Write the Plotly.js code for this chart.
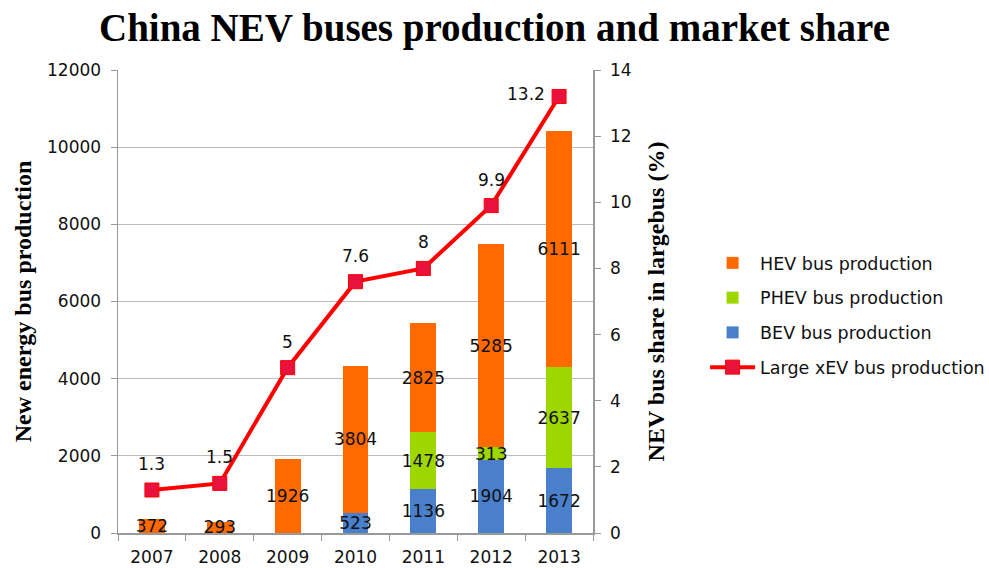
<!DOCTYPE html>
<html><head><meta charset="utf-8">
<script src="https://cdn.plot.ly/plotly-3.0.1.min.js"></script>
<style>body{margin:0;background:#fff}#c{width:989px;height:568px}</style>
</head><body><div id="c"></div>
<script>
const years = ['2007','2008','2009','2010','2011','2012','2013'];
const bev = [null, null, null, 523, 1136, 1904, 1672];
const phev = [null, null, null, null, 1478, 313, 2637];
const hev = [372, 293, 1926, 3804, 2825, 5285, 6111];
const share = [1.3, 1.5, 5, 7.6, 8, 9.9, 13.2];

const lbl = a => a.map(v => v == null ? '' : String(v));
const F = 'DejaVu Sans, sans-serif';
const SERIF = 'Liberation Serif, Times New Roman, serif';

function barTrace(name, vals, color, rank) {
  return {
    type: 'bar', name: name, x: years, y: vals,
    marker: {color: color, line: {width: 0}},
    text: lbl(vals), textposition: 'inside', insidetextanchor: 'middle',
    constraintext: 'none', textangle: 0,
    textfont: {family: F, size: 17, color: '#111'},
    legendrank: rank, legendgroup: name, hoverinfo: 'skip'
  };
}

const traces = [
  barTrace('BEV bus production', bev, '#4a7fcc', 3),
  barTrace('PHEV bus production', phev, '#9ed600', 2),
  barTrace('HEV bus production', hev, '#ff6a00', 1),
  {
    type: 'scatter', mode: 'lines+markers', name: 'Large xEV bus production',
    x: years, y: share, yaxis: 'y2',
    line: {color: '#ff0000', width: 4},
    marker: {symbol: 'square', size: 14, color: '#e8123c', line: {color: '#ff0000', width: 1}},
    legendrank: 4, legendgroup: 'line', cliponaxis: false, hoverinfo: 'skip'
  }
];

const last = share.length - 1;
const annotations = share.map((v, i) => ({
  x: i, y: v, xref: 'x', yref: 'y2', text: String(v), showarrow: false,
  font: {family: F, size: 17, color: '#111'},
  xanchor: i === last ? 'right' : 'center',
  xshift: i === last ? -12 : 0,
  yshift: i === last ? 2 : 26
}));

const layout = {
  width: 989, height: 568,
  margin: {l: 118, r: 396, t: 70, b: 35, autoexpand: false},
  paper_bgcolor: '#fff', plot_bgcolor: '#fff',
  title: {text: '<b>China NEV buses production and market share</b>',
    font: {family: SERIF, size: 39, color: '#000'},
    x: 0.5, xanchor: 'center', y: 0.952, yanchor: 'middle'},
  barmode: 'stack', bargap: 0.62,
  showlegend: true,
  legend: {x: 1.236, xanchor: 'left', y: 0.622, yanchor: 'top',
    traceorder: 'grouped', tracegroupgap: 9,
    font: {family: F, size: 17.5, color: '#111'}, itemwidth: 45},
  uniformtext: {mode: 'show', minsize: 17},
  xaxis: {type: 'category', range: [-0.5, years.length - 0.5], tickson: 'boundaries',
    ticks: 'outside', ticklen: 6, tickangle: 0, ticklabelstandoff: 8,
    tickcolor: '#999', showline: true, linecolor: '#999', linewidth: 1.5,
    showgrid: false, tickfont: {family: F, size: 17, color: '#111'}},
  yaxis: {range: [0, 12000], dtick: 2000, tickformat: 'd', ticks: 'outside', ticklen: 6,
    tickcolor: '#999', showline: true, linecolor: '#999', linewidth: 1.5,
    showgrid: true, gridcolor: '#bbb', gridwidth: 1, zeroline: false,
    tickfont: {family: F, size: 17, color: '#111'}, ticklabelstandoff: 6,
    title: {text: '<b>New energy bus production</b>', standoff: 8,
      font: {family: SERIF, size: 24, color: '#000'}}},
  yaxis2: {overlaying: 'y', side: 'right', range: [0, 14], dtick: 2,
    ticks: 'outside', ticklen: 6, tickcolor: '#999', showline: true,
    linecolor: '#999', linewidth: 1.5, showgrid: false, zeroline: false,
    tickfont: {family: F, size: 17, color: '#111'}, ticklabelstandoff: 6,
    title: {text: '<b>NEV bus share in largebus (%)</b>', standoff: 16,
      font: {family: SERIF, size: 24, color: '#000'}}},
  annotations: annotations
};

Plotly.newPlot('c', traces, layout, {staticPlot: true});
</script></body></html>
